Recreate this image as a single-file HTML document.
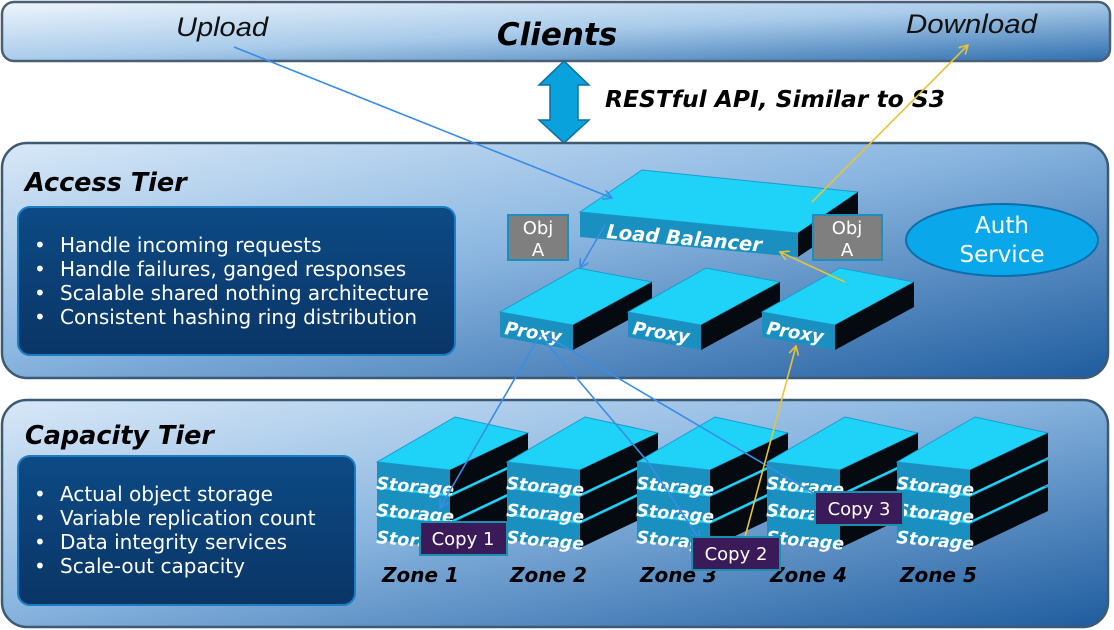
<!DOCTYPE html>
<html><head><meta charset="utf-8"><style>
html,body{margin:0;padding:0;background:#fff;}
svg{display:block;font-family:"DejaVu Sans","Liberation Sans",sans-serif;}
</style></head><body>
<svg width="1114" height="630" viewBox="0 0 1114 630" xmlns="http://www.w3.org/2000/svg">
<defs>
<linearGradient id="gc" x1="0" y1="0" x2="1" y2="1">
<stop offset="0" stop-color="#eef5fc"/><stop offset="0.5" stop-color="#a9cbea"/><stop offset="1" stop-color="#2f6fae"/></linearGradient>
<linearGradient id="gp" x1="0" y1="0" x2="1" y2="1">
<stop offset="0" stop-color="#d8e8f7"/><stop offset="0.45" stop-color="#8cb7e1"/><stop offset="1" stop-color="#1f5c9e"/></linearGradient>
<linearGradient id="gb" x1="0" y1="0" x2="0" y2="1">
<stop offset="0" stop-color="#0d4a85"/><stop offset="1" stop-color="#0a3566"/></linearGradient>
<marker id="ab" markerWidth="10" markerHeight="10" refX="9" refY="5" orient="auto" markerUnits="userSpaceOnUse"><path d="M0,0 L9,5 L0,10" fill="none" stroke="#3a8ce6" stroke-width="1.6"/></marker>
<marker id="ay" markerWidth="10" markerHeight="10" refX="9" refY="5" orient="auto" markerUnits="userSpaceOnUse"><path d="M0,0 L9,5 L0,10" fill="none" stroke="#e8c237" stroke-width="1.6"/></marker>
<g id="slab">
<polygon points="377,462 455,417 528,433 450,470" fill="#1fd3f8" stroke="#1a9ccc" stroke-width="1"/>
<polygon points="377,462 450,470 450,494 377,486" fill="#1a90c0"/>
<polygon points="450,470 528,433 528,457 450,494" fill="#050a10"/>
<text x="376" y="489" font-size="17.5" font-weight="bold" font-style="italic" fill="#fff" transform="rotate(5 376 489)">Storage</text>
</g>
<g id="stack">
<use href="#slab" transform="translate(0,54)"/>
<use href="#slab" transform="translate(0,27)"/>
<use href="#slab"/>
</g>
<g id="proxy">
<polygon points="500,312 578,268 652,282 573,325" fill="#1fd3f8" stroke="#1a9ccc"/>
<polygon points="500,312 573,325 573,350 500,337" fill="#1a90c0"/>
<polygon points="573,325 652,282 652,307 573,350" fill="#050a10"/>
<text x="504" y="334" font-size="18" font-weight="bold" font-style="italic" fill="#fff" transform="rotate(9 504 334)">Proxy</text>
</g>
</defs>

<rect x="2" y="2" width="1108" height="59" rx="12" fill="url(#gc)" stroke="#4a5f74" stroke-width="2.5"/>
<text x="557" y="45" font-size="31" font-weight="bold" font-style="italic" text-anchor="middle" fill="#000">Clients</text>
<text x="176" y="36" font-size="27" font-style="italic" fill="#111" font-family="Liberation Sans, sans-serif" textLength="92" lengthAdjust="spacingAndGlyphs">Upload</text>
<text x="906" y="33" font-size="27" font-style="italic" fill="#111" font-family="Liberation Sans, sans-serif" textLength="131" lengthAdjust="spacingAndGlyphs">Download</text>

<polygon points="564,61 589,85 578,85 578,120 589,120 564,143 539,120 550,120 550,85 539,85" fill="#0aa2dc" stroke="#0a6fa0" stroke-width="1.5"/>
<text x="605" y="107" font-size="23" font-weight="bold" font-style="italic" fill="#000" textLength="340" lengthAdjust="spacingAndGlyphs">RESTful API, Similar to S3</text>

<rect x="2" y="143" width="1106" height="235" rx="25" fill="url(#gp)" stroke="#3d5a75" stroke-width="2.5"/>
<text x="25" y="191" font-size="25.5" font-weight="bold" font-style="italic" fill="#000">Access Tier</text>
<rect x="18" y="207" width="437" height="148" rx="12" fill="url(#gb)" stroke="#1b7dc2" stroke-width="2"/>
<g font-size="20" fill="#fff">
<text x="34" y="252">•</text><text x="60" y="252">Handle incoming requests</text>
<text x="34" y="276">•</text><text x="60" y="276">Handle failures, ganged responses</text>
<text x="34" y="300">•</text><text x="60" y="300">Scalable shared nothing architecture</text>
<text x="34" y="324">•</text><text x="60" y="324">Consistent hashing ring distribution</text>
</g>

<rect x="2" y="400" width="1106" height="227" rx="25" fill="url(#gp)" stroke="#3d5a75" stroke-width="2.5"/>
<text x="25" y="444" font-size="25.5" font-weight="bold" font-style="italic" fill="#000">Capacity Tier</text>
<rect x="18" y="456" width="337" height="149" rx="12" fill="url(#gb)" stroke="#1b7dc2" stroke-width="2"/>
<g font-size="20" fill="#fff">
<text x="34" y="501">•</text><text x="60" y="501">Actual object storage</text>
<text x="34" y="525">•</text><text x="60" y="525">Variable replication count</text>
<text x="34" y="549">•</text><text x="60" y="549">Data integrity services</text>
<text x="34" y="573">•</text><text x="60" y="573">Scale-out capacity</text>
</g>

<polygon points="580,212 642,170 858,192 798,233" fill="#1fd3f8" stroke="#1a9ccc"/>
<polygon points="580,212 798,233 798,257 580,237" fill="#1a90c0"/>
<polygon points="798,233 858,192 858,217 798,257" fill="#050a10"/>
<text x="606" y="238" font-size="19.5" font-weight="bold" font-style="italic" fill="#fff" transform="rotate(5 606 238)">Load Balancer</text>

<rect x="508" y="215" width="60" height="45" fill="#7f7f7f" stroke="#1a8fc0" stroke-width="2"/>
<text x="538" y="234" font-size="18" fill="#fff" text-anchor="middle">Obj</text>
<text x="538" y="256" font-size="18" fill="#fff" text-anchor="middle">A</text>
<rect x="813" y="215" width="69" height="45" fill="#7f7f7f" stroke="#1a8fc0" stroke-width="2"/>
<text x="847" y="234" font-size="18" fill="#fff" text-anchor="middle">Obj</text>
<text x="847" y="256" font-size="18" fill="#fff" text-anchor="middle">A</text>

<ellipse cx="1002" cy="240" rx="96" ry="36" fill="#0aa8ea" stroke="#0b6fae" stroke-width="2"/>
<text x="1002" y="233" font-size="23" fill="#fff" text-anchor="middle">Auth</text>
<text x="1002" y="262" font-size="23" fill="#fff" text-anchor="middle">Service</text>

<use href="#proxy"/>
<use href="#proxy" transform="translate(128,0)"/>
<use href="#proxy" transform="translate(262,0)"/>

<use href="#stack"/>
<use href="#stack" transform="translate(130,0)"/>
<use href="#stack" transform="translate(260,0)"/>
<use href="#stack" transform="translate(390,0)"/>
<use href="#stack" transform="translate(520,0)"/>

<g font-size="20" font-weight="bold" font-style="italic" fill="#000">
<text x="382" y="582">Zone 1</text>
<text x="510" y="582">Zone 2</text>
<text x="640" y="582">Zone 3</text>
<text x="770" y="582">Zone 4</text>
<text x="900" y="582">Zone 5</text>
</g>

<g stroke="#3a8ce6" stroke-width="1.6" fill="none">
<line x1="234" y1="47" x2="612" y2="198" marker-end="url(#ab)"/>
<line x1="605" y1="225" x2="580" y2="268" marker-end="url(#ab)"/>
<polyline points="540,335 440,508" marker-end="url(#ab)"/>
<polyline points="540,335 648,462 700,540" marker-end="url(#ab)"/>
<line x1="545" y1="335" x2="825" y2="500" marker-end="url(#ab)"/>
</g>
<g stroke="#e8c237" stroke-width="1.6" fill="none">
<line x1="745" y1="537" x2="796" y2="346" marker-end="url(#ay)"/>
<line x1="845" y1="282" x2="780" y2="252" marker-end="url(#ay)"/>
<line x1="812" y1="202" x2="968" y2="45" marker-end="url(#ay)"/>
</g>

<g font-size="18" fill="#fff" text-anchor="middle">
<rect x="420" y="522" width="87" height="33" fill="#3b1a5a" stroke="#1a8fb0" stroke-width="2"/>
<text x="463" y="545">Copy 1</text>
<rect x="692" y="537" width="88" height="33" fill="#3b1a5a" stroke="#1a8fb0" stroke-width="2"/>
<text x="736" y="560">Copy 2</text>
<rect x="815" y="492" width="88" height="33" fill="#3b1a5a" stroke="#1a8fb0" stroke-width="2"/>
<text x="859" y="515">Copy 3</text>
</g>
</svg>
</body></html>
